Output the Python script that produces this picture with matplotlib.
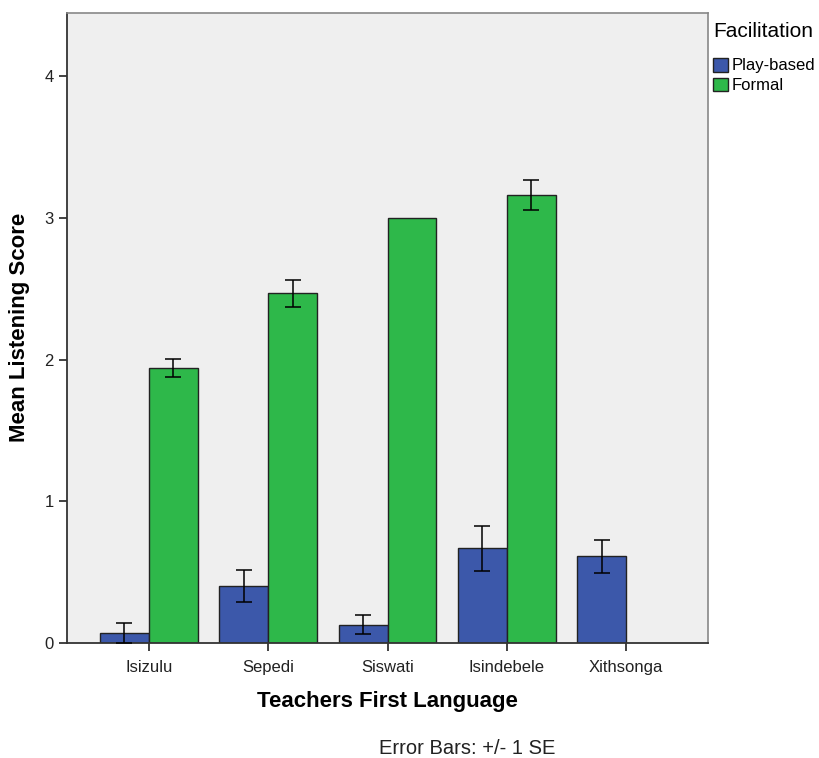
import matplotlib
matplotlib.use("Agg")
import matplotlib.pyplot as plt
import numpy as np

plt.rcParams['font.family'] = ['Liberation Sans', 'DejaVu Sans']

categories = ["Isizulu", "Sepedi", "Siswati", "Isindebele", "Xithsonga"]
play_vals = [0.07, 0.40, 0.13, 0.668, 0.612]
play_se = [0.073, 0.112, 0.07, 0.161, 0.118]
formal_vals = [1.938, 2.467, 2.998, 3.163, np.nan]
formal_se = [0.063, 0.093, 0.0, 0.104, np.nan]

blue = "#3c58aa"
green = "#2eb84a"

fig = plt.figure(figsize=(8.19, 7.58), dpi=100)
ax = fig.add_axes([67/819, 1-643/758, (708-67)/819, (643-12.5)/758])
ax.set_facecolor("#efefef")

x = np.arange(len(categories))
w = 0.41
ax.bar(x - w/2, play_vals, w, color=blue, edgecolor="#222222", linewidth=1.0, label="Play-based", zorder=2)
fx = [xi + w/2 for xi, v in zip(x, formal_vals) if not np.isnan(v)]
fv = [v for v in formal_vals if not np.isnan(v)]
ax.bar(fx, fv, w, color=green, edgecolor="#222222", linewidth=1.0, label="Formal", zorder=2)

ax.errorbar(x - w/2, play_vals, yerr=play_se, fmt="none", ecolor="black", elinewidth=1.1, capsize=6, capthick=1.1, zorder=3)
fse = [s for s in formal_se if not np.isnan(s)]
idx = [i for i, s in enumerate(fse) if s > 0]
ax.errorbar([fx[i] for i in idx], [fv[i] for i in idx], yerr=[fse[i] for i in idx], fmt="none", ecolor="black", elinewidth=1.1, capsize=6, capthick=1.1, zorder=3)

ax.set_xlim(-0.685, 4.685)
ax.set_ylim(0, 4.45)
ax.set_yticks([0, 1, 2, 3, 4])
ax.set_yticklabels(["0", "1", "2", "3", "4"], fontsize=12, color="#222222")
ax.set_xticks(x)
ax.set_xticklabels(categories, fontsize=12, color="#222222")
ax.tick_params(axis="both", direction="out", length=6, width=1.3, color="#333333")
ax.tick_params(axis="x", pad=6)
for s in ["left", "bottom"]:
    ax.spines[s].set_color("#333333")
    ax.spines[s].set_linewidth(1.3)
for s in ["top", "right"]:
    ax.spines[s].set_color("#888888")
    ax.spines[s].set_linewidth(1.2)

ax.set_ylabel("Mean Listening Score", fontsize=16, fontweight="bold", va="center")
ax.yaxis.set_label_coords((20-67)/641, (643-327)/630.5)
ax.set_xlabel("Teachers First Language", fontsize=16, fontweight="bold", va="center")
ax.xaxis.set_label_coords((387-67)/641, (643-701)/630.5)

leg = fig.legend(loc="upper left", bbox_to_anchor=(713/819, 1-22/758), title="Facilitation",
                 fontsize=12, title_fontsize=15, frameon=False, handlelength=0.9, handleheight=0.9,
                 handletextpad=0.2, labelspacing=0.25, borderaxespad=0, borderpad=0)
leg._legend_box.align = "left"
leg._legend_box.sep = 12

fig.text(467/819, 1-748/758, "Error Bars: +/- 1 SE", fontsize=14.5, ha="center", va="center", color="#222222")

fig.savefig("out.png", dpi=100, facecolor="white")
